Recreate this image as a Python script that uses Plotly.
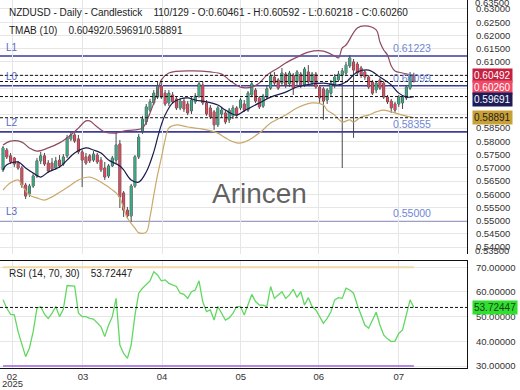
import plotly.graph_objects as go

# ---------------- data ----------------
idx = list(range(110))
opens = [0.5692,0.5767,0.5745,0.5737,0.5718,0.5699,0.5635,0.5601,0.5631,0.5669,
0.5726,0.5745,0.5718,0.5718,0.5699,0.5729,0.5714,0.5745,0.5809,0.5824,
0.5809,0.5760,0.5741,0.5745,0.5729,0.5748,0.5729,0.5699,0.5669,0.5707,
0.5729,0.5790,0.5605,0.5540,0.5518,0.5631,0.5741,0.5839,0.5873,0.5918,
0.5945,0.5967,0.6009,0.5982,0.5945,0.5975,0.5960,0.5926,0.5952,0.5941,
0.5915,0.5949,0.5971,0.6013,0.5945,0.5926,0.5911,0.5862,0.5903,0.5907,
0.5881,0.5896,0.5926,0.5926,0.5941,0.5918,0.5975,0.5994,0.5964,0.5933,
0.5967,0.6001,0.6043,0.6032,0.6020,0.6054,0.6017,0.6050,0.6024,0.6054,
0.6013,0.6062,0.6020,0.6054,0.6005,0.5998,0.5956,0.5982,0.6013,0.6032,
0.6050,0.6058,0.6085,0.6100,0.6092,0.6077,0.6062,0.6043,0.6024,0.5994,
0.6032,0.6020,0.5967,0.5952,0.5941,0.5941,0.5945,0.5964,0.6001,0.60461]
closes = [0.5775,0.5741,0.5722,0.5714,0.5699,0.5635,0.5593,0.5631,0.5669,0.5726,
0.5745,0.5714,0.5688,0.5695,0.5726,0.5707,0.5741,0.5813,0.5824,0.5801,
0.5760,0.5729,0.5718,0.5726,0.5752,0.5722,0.5692,0.5665,0.5707,0.5737,
0.5786,0.5590,0.5540,0.5518,0.5631,0.5741,0.5816,0.5884,0.5930,0.5949,
0.5982,0.6009,0.5967,0.5941,0.5982,0.5949,0.5926,0.5952,0.5922,0.5907,
0.5956,0.5971,0.6017,0.5945,0.5903,0.5892,0.5862,0.5926,0.5918,0.5873,
0.5918,0.5926,0.5899,0.5956,0.5918,0.5982,0.6017,0.5952,0.5930,0.5971,
0.5998,0.6047,0.6020,0.6001,0.6058,0.6013,0.6058,0.6001,0.6062,0.6013,
0.6073,0.6024,0.6054,0.6005,0.5964,0.5952,0.5994,0.6020,0.6043,0.6054,
0.6066,0.6088,0.6115,0.6069,0.6058,0.6050,0.6043,0.6005,0.5982,0.6020,
0.6001,0.5967,0.5949,0.5926,0.5918,0.5967,0.5967,0.6005,0.6050,0.60260]
highs = [0.5782,0.5775,0.5756,0.5741,0.5726,0.5707,0.5643,0.5639,0.5680,0.5737,
0.5760,0.5756,0.5729,0.5737,0.5741,0.5748,0.5752,0.5824,0.5835,0.5831,
0.5824,0.5767,0.5756,0.5752,0.5763,0.5756,0.5741,0.5722,0.5714,0.5745,
0.5835,0.5805,0.5612,0.5552,0.5639,0.5748,0.5828,0.5896,0.5941,0.5960,
0.5994,0.6024,0.6028,0.5994,0.5994,0.5986,0.5971,0.5964,0.5964,0.5952,
0.5967,0.5982,0.6028,0.6024,0.5956,0.5937,0.5918,0.5933,0.5930,0.5918,
0.5926,0.5937,0.5933,0.5964,0.5956,0.5990,0.6024,0.6001,0.5971,0.5979,
0.6009,0.6058,0.6062,0.6039,0.6077,0.6062,0.6066,0.6058,0.6069,0.6062,
0.6081,0.6088,0.6062,0.6062,0.6013,0.6005,0.6001,0.6032,0.6054,0.6066,
0.6077,0.6100,0.6126,0.6111,0.6100,0.6085,0.6069,0.6050,0.6032,0.6028,
0.6039,0.6028,0.5975,0.5960,0.5949,0.5975,0.5975,0.6013,0.6062,0.60592]
lows = [0.5684,0.5733,0.5714,0.5703,0.5692,0.5624,0.5582,0.5590,0.5624,0.5661,
0.5714,0.5707,0.5680,0.5688,0.5692,0.5699,0.5707,0.5737,0.5801,0.5794,
0.5752,0.5627,0.5711,0.5718,0.5722,0.5714,0.5684,0.5654,0.5661,0.5703,
0.5718,0.5548,0.5514,0.5507,0.5495,0.5624,0.5733,0.5828,0.5862,0.5911,
0.5937,0.5960,0.5960,0.5933,0.5933,0.5941,0.5918,0.5918,0.5911,0.5899,
0.5903,0.5941,0.5964,0.5937,0.5896,0.5884,0.5843,0.5854,0.5888,0.5865,
0.5869,0.5884,0.5892,0.5918,0.5911,0.5911,0.5967,0.5945,0.5922,0.5926,
0.5960,0.5994,0.6009,0.5994,0.6013,0.6001,0.6005,0.5975,0.6013,0.6001,
0.6005,0.6017,0.6009,0.5998,0.5945,0.5881,0.5941,0.5971,0.6001,0.6024,
0.5699,0.6047,0.6077,0.5813,0.6047,0.6039,0.6032,0.5998,0.5975,0.5982,
0.5994,0.5960,0.5941,0.5907,0.5907,0.5930,0.5922,0.5956,0.5994,0.60218]

# TMA bands (10)
upper_idx = [0,2,5,7,9,12,15,17,18,20,22,23,25,27,30,32,35,37,39,41,42,44,50,55,58,60,
             63,66,68,70,73,75,78,81,85,88,89,90,91,94,96,99,100,101,102,103,104,106,109]
upper_val = [0.5786,0.5801,0.5797,0.5775,0.5763,0.5775,0.5794,0.5813,0.5824,0.5850,0.5877,
             0.5877,0.5854,0.5835,0.5831,0.5839,0.5843,0.5850,0.5907,0.5986,0.6032,0.6058,
             0.6066,0.6062,0.6054,0.6032,0.6005,0.6005,0.6020,0.6050,0.6077,0.6096,0.6118,
             0.6137,0.6141,0.6122,0.6115,0.6153,0.6164,0.6228,0.6236,0.6221,0.6175,0.6145,
             0.6126,0.6085,0.6066,0.6058,0.60492]
mid_idx = [0,1,4,6,8,10,12,15,17,19,22,24,26,28,31,32,34,36,38,40,41,42,43,45,47,49,51,
           54,57,59,62,64,68,71,75,78,82,85,89,91,94,97,100,103,105,107,109]
mid_val = [0.5692,0.5711,0.5722,0.5699,0.5680,0.5665,0.5684,0.5703,0.5729,0.5756,0.5775,
           0.5767,0.5756,0.5729,0.5707,0.5692,0.5654,0.5646,0.5684,0.5760,0.5813,0.5862,
           0.5899,0.5945,0.5960,0.5964,0.5956,0.5949,0.5937,0.5918,0.5899,0.5915,0.5945,
           0.5967,0.5986,0.6005,0.6017,0.6020,0.6013,0.6024,0.6062,0.6069,0.6043,0.6013,
           0.5982,0.5967,0.59691]
lower_idx = [0,2,4,5,7,9,11,13,16,18,20,23,25,28,30,31,33,35,36,38,39,40,41,42,43,44,46,
             49,51,54,57,59,62,64,68,71,75,78,82,85,86,88,90,92,93,95,97,99,101,103,106,109]
lower_val = [0.5616,0.5643,0.5654,0.5635,0.5597,0.5586,0.5578,0.5590,0.5616,0.5635,0.5654,
             0.5665,0.5654,0.5627,0.5605,0.5586,0.5510,0.5472,0.5454,0.5457,0.5514,0.5597,
             0.5673,0.5737,0.5805,0.5850,0.5862,0.5854,0.5850,0.5843,0.5831,0.5813,0.5794,
             0.5797,0.5831,0.5869,0.5899,0.5926,0.5945,0.5937,0.5918,0.5899,0.5873,0.5881,
             0.5873,0.5892,0.5899,0.5911,0.5918,0.5911,0.5899,0.58891]

rsi = [56.8,53.4,50.9,50.7,43.9,38.5,33.8,37.2,43.9,53.4,
       54.0,51.0,49.3,51.3,54.1,50.0,53.0,62.6,62.4,62.4,
       51.5,50.0,50.0,49.3,49.0,47.5,45.9,41.9,46.5,50.0,
       57.4,38.5,35.1,33.1,38.5,50.5,59.5,61.5,62.8,64.5,
       68.2,66.9,64.5,64.9,63.5,62.8,62.2,59.5,59.0,57.4,
       60.1,60.8,64.5,56.0,52.0,52.7,48.6,54.1,51.3,48.6,
       49.5,51.3,54.1,54.1,50.7,54.7,59.0,56.1,54.7,54.7,
       54.1,62.2,57.4,58.8,60.1,57.4,58.8,61.1,57.8,60.1,
       54.7,57.7,54.1,52.7,50.0,47.3,49.3,52.0,56.8,57.7,
       57.4,61.5,60.8,59.5,54.7,50.5,46.6,45.3,48.5,51.8,
       46.6,42.6,41.0,39.9,40.1,43.2,44.6,50.7,56.8,53.72447]

level_names = ["L1", "L0", "L2", "L3"]
level_vals = [0.61223, 0.60099, 0.58355, 0.55000]
current_vals = [0.60492, 0.60260, 0.59691, 0.58891]
current_labels = ["0.60492", "0.60260", "0.59691", "0.58891"]
rsi_levels = [70, 30]
rsi_last = 53.72447
month_idx = [2.4, 21.2, 42.2, 63.1, 83.8, 105.0]
month_labels = ["02", "03", "04", "05", "06", "07"]
edge_labels = ["0.63500", "0.53500"]   # clamped labels drawn at the panel edges

header1 = ("NZDUSD - Daily - Candlestick\u00a0\u00a0\u00a0 110/129 - O:0.60461 - H:0.60592"
           " - L:0.60218 - C:0.60260")
header2 = "TMAB (10)\u00a0\u00a0\u00a0 0.60492/0.59691/0.58891"
rsi_header = "RSI (14, 70, 30)\u00a0\u00a0\u00a0 53.72447"

# ---------------- figure ----------------
FONT = "Liberation Sans, Arial, sans-serif"
GRID = "#e6e6e6"
XR = [-0.8, 123.1]
fig = go.Figure()

for v in level_vals:
    fig.add_shape(type="line", xref="paper", x0=0, x1=1, yref="y", y0=v, y1=v,
                  line=dict(color="#3d3d9e", width=1.6), layer="below")
for v in current_vals:
    fig.add_shape(type="line", xref="paper", x0=0, x1=1, yref="y", y0=v, y1=v,
                  line=dict(color="#111111", width=1, dash="3px,2px"), layer="above")

# wicks
fig.add_trace(go.Candlestick(x=idx, open=opens, high=highs, low=lows, close=closes,
    increasing=dict(line=dict(color="#4a4a4a", width=1), fillcolor="#4a4a4a"),
    decreasing=dict(line=dict(color="#4a4a4a", width=1), fillcolor="#4a4a4a"),
    whiskerwidth=0, hoverinfo="skip", showlegend=False, xaxis="x", yaxis="y"))
# bodies
fig.add_trace(go.Candlestick(x=idx, open=opens, high=highs, low=lows, close=closes,
    increasing=dict(line=dict(color="#3aaa86", width=0), fillcolor="#3aaa86"),
    decreasing=dict(line=dict(color="#e0485e", width=0), fillcolor="#e0485e"),
    whiskerwidth=0, hoverinfo="skip", showlegend=False, xaxis="x", yaxis="y"))

fig.add_trace(go.Scatter(x=upper_idx, y=upper_val, mode="lines", line=dict(color="#8f4a5e", width=1.2, shape="spline"),
                         hoverinfo="skip", showlegend=False, xaxis="x", yaxis="y"))
fig.add_trace(go.Scatter(x=mid_idx, y=mid_val, mode="lines", line=dict(color="#1c1c4e", width=1.2, shape="spline"),
                         hoverinfo="skip", showlegend=False, xaxis="x", yaxis="y"))
fig.add_trace(go.Scatter(x=lower_idx, y=lower_val, mode="lines", line=dict(color="#c9a96a", width=1.2, shape="spline"),
                         hoverinfo="skip", showlegend=False, xaxis="x", yaxis="y"))

# RSI panel
fig.add_trace(go.Scatter(x=[idx[0], idx[-1]], y=[rsi_levels[0]] * 2, mode="lines",
                         line=dict(color="#efd9a6", width=2), hoverinfo="skip", showlegend=False,
                         xaxis="x2", yaxis="y2"))
fig.add_trace(go.Scatter(x=[idx[0], idx[-1]], y=[rsi_levels[1]] * 2, mode="lines",
                         line=dict(color="#b487e6", width=2), hoverinfo="skip", showlegend=False,
                         xaxis="x2", yaxis="y2"))
fig.add_shape(type="line", xref="x2 domain", x0=0, x1=1, yref="y2", y0=rsi_last, y1=rsi_last,
              line=dict(color="#111111", width=1, dash="3px,2px"))
fig.add_trace(go.Scatter(x=idx, y=rsi, mode="lines", line=dict(color="#62d862", width=1.3),
                         hoverinfo="skip", showlegend=False, xaxis="x2", yaxis="y2"))

ann = []
for name, v in zip(level_names, level_vals):
    ann.append(dict(xref="paper", x=0.008, yref="y", y=v, yshift=9, text=name, showarrow=False,
                    xanchor="left", yanchor="middle", font=dict(family=FONT, size=10, color="#5668c8")))
    ann.append(dict(xref="paper", x=0.838, yref="y", y=v, yshift=8, text=f"{v:.5f}", showarrow=False,
                    xanchor="left", yanchor="middle", font=dict(family=FONT, size=10.5, color="#6f86d6")))

# clamped edge tick labels (overlapping, as in the source chart)
for lab, py in zip(edge_labels, [0.992, 0.318]):
    ann.append(dict(xref="paper", x=1, xshift=6, xanchor="left", yref="paper", y=py,
                    yanchor="middle", text=lab, showarrow=False,
                    font=dict(family=FONT, size=9.5, color="#333333")))

box_bg = ["#c42140", "#f04a66", "#1c1c58", "#c9a035"]
box_fg = ["white", "white", "white", "#222222"]
box_shift = [0, -6, -3, 0]
for lab, v, bg, fg, sh in zip(current_labels, current_vals, box_bg, box_fg, box_shift):
    ann.append(dict(xref="paper", x=1, xshift=5, xanchor="left", yref="y", y=v, yshift=sh,
                    yanchor="middle", text=lab, showarrow=False, bgcolor=bg, borderpad=1,
                    font=dict(family=FONT, size=10, color=fg)))
ann.append(dict(xref="paper", x=1, xshift=5, xanchor="left", yref="y2", y=rsi_last,
                yanchor="middle", text=f"{rsi_last:.5f}", showarrow=False, bgcolor="#2fe02f", borderpad=1,
                font=dict(family=FONT, size=10, color="#1b3d1b")))

ann.append(dict(xref="paper", x=0.015, yref="paper", y=0.967, xanchor="left", yanchor="middle",
                text=header1, showarrow=False, font=dict(family=FONT, size=10, color="#222222")))
ann.append(dict(xref="paper", x=0.015, yref="paper", y=0.918, xanchor="left", yanchor="middle",
                text=header2, showarrow=False, font=dict(family=FONT, size=10, color="#222222")))
ann.append(dict(xref="paper", x=0.015, yref="paper", y=0.258, xanchor="left", yanchor="middle",
                text=rsi_header, showarrow=False, font=dict(family=FONT, size=10, color="#222222")))
ann.append(dict(xref="paper", x=0.556, yref="paper", y=0.4755, xanchor="center", yanchor="middle",
                text="Arincen", showarrow=False, font=dict(family=FONT, size=28, color="rgba(70,70,70,0.85)")))
ann.append(dict(xref="x2", x=month_idx[0], yref="paper", y=-0.042, xanchor="center", yanchor="middle",
                text="2025", showarrow=False, font=dict(family=FONT, size=9.5, color="#333333")))

fig.update_layout(
    width=520, height=390,
    margin=dict(l=0, r=53, t=0, b=22),
    paper_bgcolor="white", plot_bgcolor="white",
    showlegend=False, boxgap=0.25,
    font=dict(family=FONT, size=9.5, color="#333333"),
    annotations=ann,
    xaxis=dict(domain=[0, 1], range=XR, anchor="y", showticklabels=False, tickvals=month_idx,
               showgrid=True, gridcolor=GRID, zeroline=False, rangeslider=dict(visible=False),
               automargin=False),
    xaxis2=dict(domain=[0, 1], range=XR, anchor="y2", matches="x", tickvals=month_idx,
                ticktext=month_labels, showgrid=True, gridcolor=GRID, zeroline=False,
                showline=True, mirror=True, linecolor="#111111", linewidth=1,
                tickfont=dict(family=FONT, size=9.5, color="#333333"), automargin=False,
                rangeslider=dict(visible=False)),
    yaxis=dict(domain=[0.3098, 1], range=[0.53742, 0.63339], side="right", anchor="x",
               dtick=0.005, tick0=0.5, tickformat=".5f", showgrid=True, gridcolor=GRID,
               zeroline=False, showline=True, linecolor="#111111", linewidth=1,
               ticklabelstandoff=6, tickfont=dict(family=FONT, size=9.5, color="#333333"),
               automargin=False),
    yaxis2=dict(domain=[0, 0.2908], range=[29.19, 72.55], side="right", anchor="x2",
                dtick=10, tick0=0, tickformat=".5f", showgrid=True, gridcolor=GRID,
                zeroline=False, showline=True, linecolor="#111111", linewidth=1,
                ticklabelstandoff=6, tickfont=dict(family=FONT, size=9.5, color="#333333"),
                automargin=False),
)

fig.write_html("out.html", config={"displayModeBar": False},
               post_script="document.body.style.margin='0';")
